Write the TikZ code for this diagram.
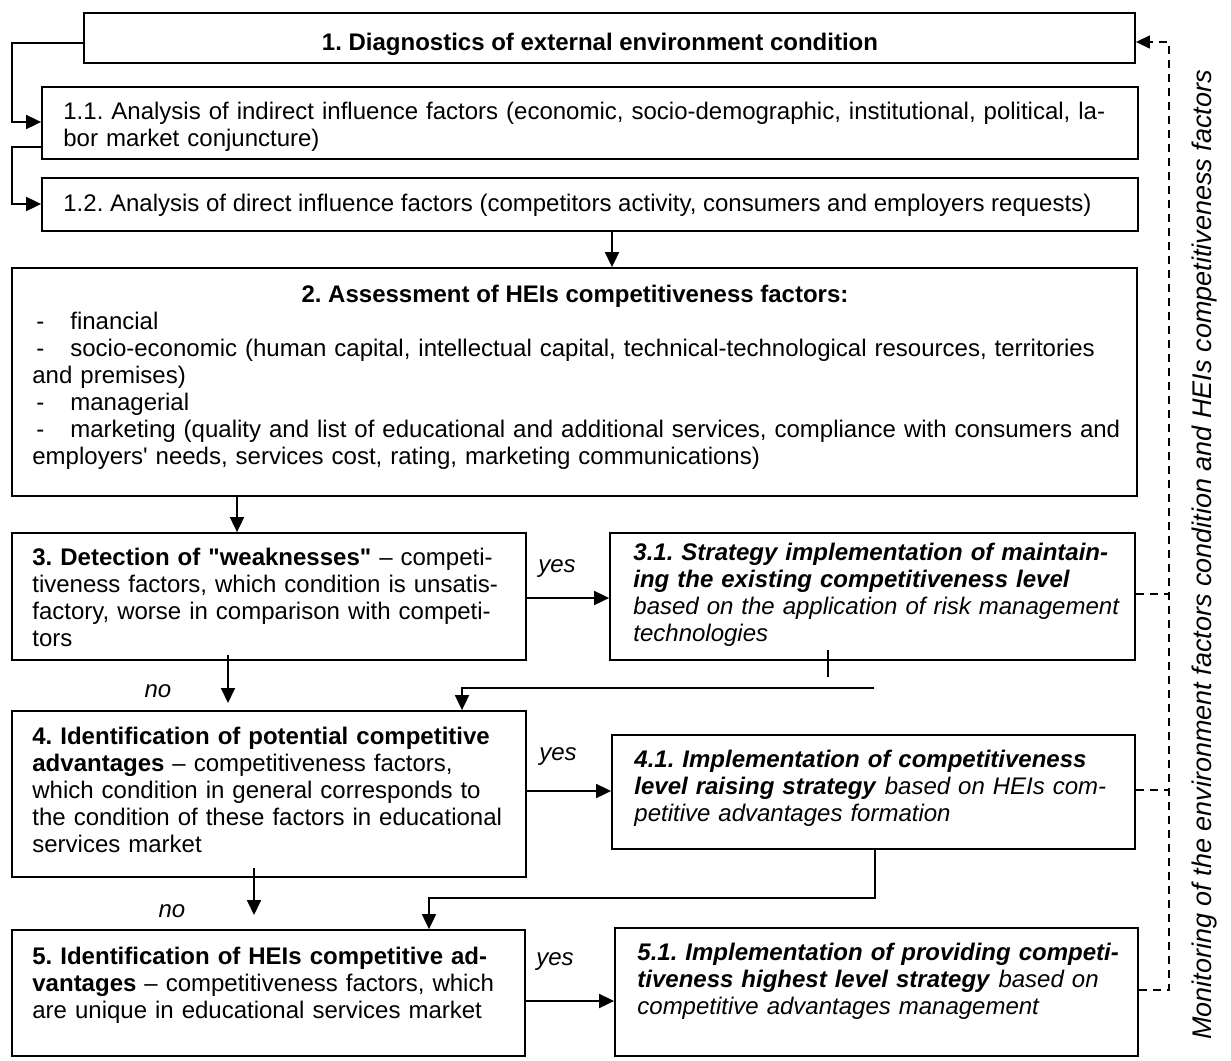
\documentclass[tikz,border=0pt]{standalone}
\usepackage{fontspec}
\setmainfont{Liberation Sans}[Ligatures=TeXOff]
\usetikzlibrary{arrows.meta,fit}
\newcommand\fs{\fontsize{12}{13.5}\selectfont\frenchspacing}
\newlength\tw
\newcommand\jl[1]{\makebox[\tw][s]{#1}\\}
\newcommand\bi[1]{\textbf{\textit{#1}}}
\newcommand\dd{\makebox[19pt][l]{\hspace{2pt}-}}
\begin{document}
\begin{tikzpicture}[x=0.5pt,y=-0.5pt,
  bx/.style={draw, line width=0.9pt, inner sep=0pt},
  txt/.style={inner sep=0pt, anchor=north west, align=left, font=\fs, text width=#1, execute at begin node={\setlength\tw{#1}}},
  one/.style={inner sep=0pt, font=\fs},
  lbl/.style={inner sep=0pt, anchor=base, font=\fs\itshape},
  arr/.style={line width=0.9pt, -{Triangle[length=7.5pt,width=7pt]}},
  ln/.style={line width=0.9pt},
  dsh/.style={line width=0.7pt, dash pattern=on 4pt off 3pt},
]
\useasboundingbox (0,0) rectangle (1231,1060);
% boxes
\node[bx, fit={(84,13)(1135,63)}] (b1) {};
\node[bx, fit={(42,87)(1138,159)}] (b11) {};
\node[bx, fit={(42,178)(1138,231)}] (b12) {};
\node[bx, fit={(12,268)(1137,496)}] (b2) {};
\node[bx, fit={(12,533)(526,660)}] (b3) {};
\node[bx, fit={(610,533)(1135,660)}] (b31) {};
\node[bx, fit={(12,711)(526,877)}] (b4) {};
\node[bx, fit={(612,735)(1135,849)}] (b41) {};
\node[bx, fit={(12,930)(525,1056)}] (b5) {};
\node[bx, fit={(615,928)(1138,1056)}] (b51) {};
% texts
\node[one, anchor=base, font=\fs\bfseries] (t1) at (600,50) {1. Diagnostics of external environment condition};
\node[txt=528pt] (t11) at (63,100) {\strut\jl{1.1. Analysis of indirect influence factors (economic, socio-demographic, institutional, political, la-}bor market conjuncture)};
\node[one, anchor=base west] (t12) at (63,211) {1.2. Analysis of direct influence factors (competitors activity, consumers and employers requests)};
\node[one, anchor=base, font=\fs\bfseries] (t2h) at (575,302) {2. Assessment of HEIs competitiveness factors:};
\node[txt=552pt] (t2) at (32,310) {\strut\dd financial\\
\dd socio-economic (human capital, intellectual capital, technical-technological resources, territories\\
and premises)\\
\dd managerial\\
\dd marketing (quality and list of educational and additional services, compliance with consumers and\\
employers' needs, services cost, rating, marketing communications)};
\node[txt=236pt] (t3) at (32,546) {\strut\jl{\textbf{3. Detection of "weaknesses"} – competi-}\jl{tiveness factors, which condition is unsatis-}\jl{factory, worse in comparison with competi-}tors};
\node[txt=241pt] (t31) at (633,541) {\strut\jl{\bi{3.1. Strategy implementation of maintain-}}\jl{\bi{ing the existing competitiveness level}}\jl{\textit{based on the application of risk management}}\textit{technologies}};
\node[txt=236pt] (t4) at (32,725) {\strut\jl{\textbf{4. Identification of potential competitive}}\jl{\textbf{advantages} – competitiveness factors,}\jl{which condition in general corresponds to}\jl{the condition of these factors in educational}services market};
\node[txt=240.5pt] (t41) at (634,748) {\strut\jl{\bi{4.1. Implementation of competitiveness}}\jl{\bi{level raising strategy} \textit{based on HEIs com-}}\textit{petitive advantages formation}};
\node[txt=236pt] (t5) at (32,945) {\strut\jl{\textbf{5. Identification of HEIs competitive ad-}}\jl{\textbf{vantages} – competitiveness factors, which}are unique in educational services market};
\node[txt=240pt] (t51) at (637,941) {\strut\jl{\bi{5.1. Implementation of providing competi-}}\jl{\bi{tiveness highest level strategy} \textit{based on}}\textit{competitive advantages management}};
% labels
\node[lbl] (y3) at (557,572) {yes};
\node[lbl] (y4) at (558,760) {yes};
\node[lbl] (y5) at (555,965) {yes};
\node[lbl] (n3) at (158,697) {no};
\node[lbl] (n4) at (172,917) {no};
\node[inner sep=0pt, rotate=90, font=\fontsize{13.5}{16}\selectfont\itshape] (mon) at (1205,555) {Monitoring of the environment factors condition and HEIs competitiveness factors};
% coordinates
\coordinate (k1) at (12,43);
\coordinate (k2) at (12,122);
\coordinate (k3) at (12,147);
\coordinate (k4) at (12,204);
\coordinate (k5) at (612,0);
\coordinate (k6) at (237,0);
\coordinate (k7) at (0,598);
\coordinate (k8a) at (228,655);
\coordinate (k8b) at (228,703);
\coordinate (k9a) at (828,650);
\coordinate (k9b) at (828,677);
\coordinate (k10) at (874,688);
\coordinate (k11) at (462,688);
\coordinate (k12) at (0,791);
\coordinate (k13) at (875,898);
\coordinate (k14) at (429,898);
\coordinate (k15a) at (254,868);
\coordinate (k15b) at (254,915);
\coordinate (k16) at (0,1001);
\coordinate (d0) at (1169,42);
\coordinate (d3) at (1169,594);
\coordinate (d4) at (1169,790);
\coordinate (d5) at (1169,990);
% connectors
\draw[arr] (b1.west |- k1) -- (k1) -- (k2) -- (b11.west |- k2);
\draw[arr] (b11.west |- k3) -- (k3) -- (k4) -- (b12.west |- k4);
\draw[arr] (b12.south -| k5) -- (b2.north -| k5);
\draw[arr] (b2.south -| k6) -- (b3.north -| k6);
\draw[arr] (b3.east |- k7) -- (b31.west |- k7);
\draw[arr] (k8a) -- (k8b);
\draw[ln] (k9a) -- (k9b);
\draw[arr] (k10) -- (k11) -- (b4.north -| k11);
\draw[arr] (b4.east |- k12) -- (b41.west |- k12);
\draw[arr] (k15a) -- (k15b);
\draw[arr] (b41.south -| k13) -- (k13) -- (k14) -- (b5.north -| k14);
\draw[arr] (b5.east |- k16) -- (b51.west |- k16);
\draw[dsh, -{Triangle[length=7pt,width=6.5pt]}] (b51.east |- d5) -- (d5) -- (d0) -- (b1.east |- d0);
\draw[dsh] (b31.east |- d3) -- (d3);
\draw[dsh] (b41.east |- d4) -- (d4);
\end{tikzpicture}
\end{document}
